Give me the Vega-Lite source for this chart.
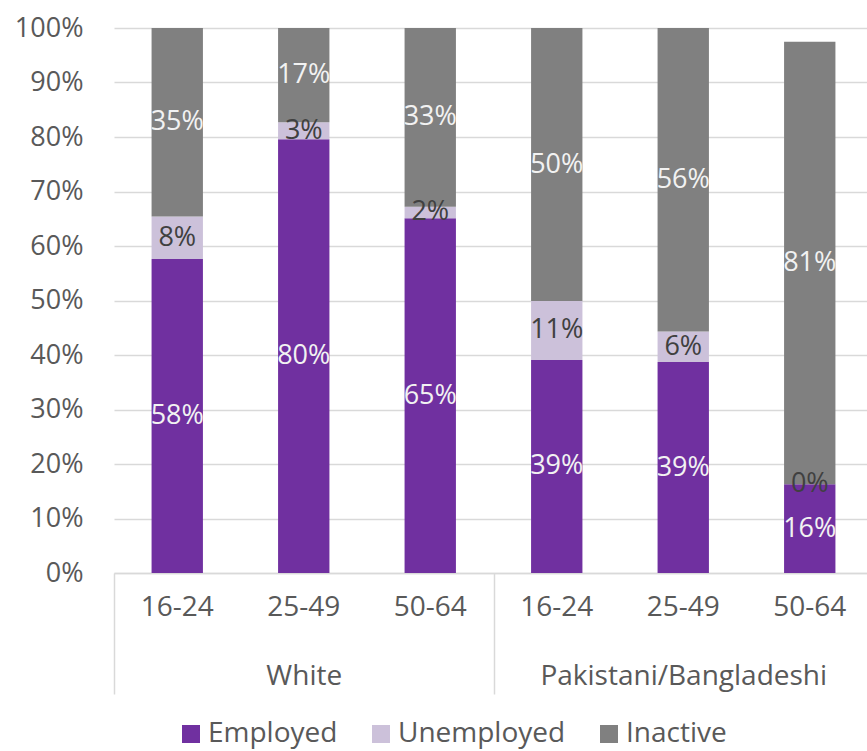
{
  "$schema": "https://vega.github.io/schema/vega-lite/v6.json",
  "width": 759,
  "height": 545,
  "padding": {"left": 14, "top": 14, "right": 0, "bottom": 20},
  "config": {
    "font": "Open Sans",
    "view": {"stroke": null},
    "axis": {"labelFont": "Open Sans", "labelColor": "#595959", "labelFontSize": 28}
  },
  "data": {
    "values": [
      {"group": "White", "age": "16-24", "key": "White|16-24", "cat": "Employed", "ord": 1, "value": 0.576},
      {"group": "White", "age": "16-24", "key": "White|16-24", "cat": "Unemployed", "ord": 2, "value": 0.078},
      {"group": "White", "age": "16-24", "key": "White|16-24", "cat": "Inactive", "ord": 3, "value": 0.346},
      {"group": "White", "age": "25-49", "key": "White|25-49", "cat": "Employed", "ord": 1, "value": 0.796},
      {"group": "White", "age": "25-49", "key": "White|25-49", "cat": "Unemployed", "ord": 2, "value": 0.031},
      {"group": "White", "age": "25-49", "key": "White|25-49", "cat": "Inactive", "ord": 3, "value": 0.173},
      {"group": "White", "age": "50-64", "key": "White|50-64", "cat": "Employed", "ord": 1, "value": 0.651},
      {"group": "White", "age": "50-64", "key": "White|50-64", "cat": "Unemployed", "ord": 2, "value": 0.021},
      {"group": "White", "age": "50-64", "key": "White|50-64", "cat": "Inactive", "ord": 3, "value": 0.328},
      {"group": "Pakistani/Bangladeshi", "age": "16-24", "key": "PB|16-24", "cat": "Employed", "ord": 1, "value": 0.391},
      {"group": "Pakistani/Bangladeshi", "age": "16-24", "key": "PB|16-24", "cat": "Unemployed", "ord": 2, "value": 0.108},
      {"group": "Pakistani/Bangladeshi", "age": "16-24", "key": "PB|16-24", "cat": "Inactive", "ord": 3, "value": 0.501},
      {"group": "Pakistani/Bangladeshi", "age": "25-49", "key": "PB|25-49", "cat": "Employed", "ord": 1, "value": 0.387},
      {"group": "Pakistani/Bangladeshi", "age": "25-49", "key": "PB|25-49", "cat": "Unemployed", "ord": 2, "value": 0.056},
      {"group": "Pakistani/Bangladeshi", "age": "25-49", "key": "PB|25-49", "cat": "Inactive", "ord": 3, "value": 0.557},
      {"group": "Pakistani/Bangladeshi", "age": "50-64", "key": "PB|50-64", "cat": "Employed", "ord": 1, "value": 0.163},
      {"group": "Pakistani/Bangladeshi", "age": "50-64", "key": "PB|50-64", "cat": "Unemployed", "ord": 2, "value": 0.0},
      {"group": "Pakistani/Bangladeshi", "age": "50-64", "key": "PB|50-64", "cat": "Inactive", "ord": 3, "value": 0.812}
    ]
  },
  "layer": [
    {
      "mark": {"type": "bar"},
      "encoding": {
        "x": {
          "field": "key", "type": "nominal", "sort": null,
          "scale": {"paddingInner": 0.594, "paddingOuter": 0.297},
          "axis": {
            "title": null, "labelAngle": 0, "ticks": false,
            "domainColor": "#d9d9d9", "domainWidth": 1.5,
            "labelPadding": 20,
            "labelExpr": "split(datum.label, '|')[1]"
          }
        },
        "y": {
          "field": "value", "type": "quantitative", "stack": "zero",
          "scale": {"domain": [0, 1], "nice": false},
          "axis": {
            "title": null, "format": ".0%", "values": [0,0.1,0.2,0.3,0.4,0.5,0.6,0.7,0.8,0.9,1],
            "labelOverlap": false, "labelFontSize": 27,
            "domain": false, "ticks": false, "labelPadding": 31,
            "gridColor": "#d9d9d9", "gridWidth": 1.5
          }
        },
        "color": {
          "field": "cat", "type": "nominal",
          "scale": {"domain": ["Employed", "Unemployed", "Inactive"], "range": ["#7030a0", "#ccc1da", "#808080"]},
          "legend": {
            "title": null, "orient": "none", "direction": "horizontal",
            "legendX": 63, "legendY": 692,
            "symbolType": "square", "symbolSize": 324, "symbolStrokeWidth": 0,
            "labelFontSize": 28, "labelColor": "#595959", "labelFont": "Open Sans",
            "labelOffset": 3, "columnPadding": 29, "labelLimit": 300
          }
        },
        "order": {"field": "ord", "type": "quantitative"}
      }
    },
    {
      "transform": [
        {"stack": "value", "groupby": ["key"], "sort": [{"field": "ord", "order": "ascending"}], "as": ["v0", "v1"]},
        {"calculate": "(datum.v0 + datum.v1) / 2", "as": "mid"}
      ],
      "mark": {"type": "text", "fontSize": 27, "font": "Open Sans", "baseline": "middle"},
      "encoding": {
        "x": {
          "field": "key", "type": "nominal", "sort": null,
          "scale": {"paddingInner": 0.594, "paddingOuter": 0.297},
          "axis": null
        },
        "y": {"field": "mid", "type": "quantitative"},
        "text": {"field": "value", "type": "quantitative", "format": ".0%"},
        "color": {
          "condition": {"test": "datum.cat === 'Unemployed'", "value": "#404040"},
          "value": "#f2f2f2"
        }
      }
    },
    {
      "mark": {"type": "point", "opacity": 0},
      "encoding": {
        "x": {
          "field": "group", "type": "nominal", "sort": null,
          "scale": {"paddingInner": 0, "paddingOuter": 0},
          "axis": {
            "title": null, "orient": "bottom", "labelAngle": 0,
            "domain": false, "ticks": true, "tickBand": "extent",
            "tickSize": 121, "tickColor": "#d9d9d9", "tickWidth": 1.5,
            "labelPadding": -32, "labelLimit": 500
          }
        }
      }
    }
  ],
  "resolve": {"scale": {"x": "independent"}, "axis": {"x": "independent"}}
}
